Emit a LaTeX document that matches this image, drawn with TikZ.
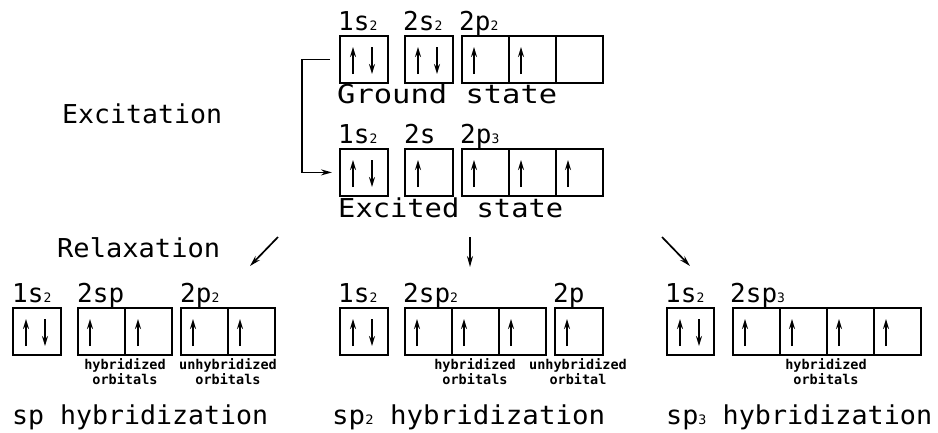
\documentclass[tikz,border=0pt]{standalone}
\usepackage{fontspec}
\usepackage{graphicx}
\newfontfamily\cadfont{DejaVu Sans Mono}
\usetikzlibrary{arrows.meta,calc}
\newcommand\sm[1]{{\fontsize{13}{13}\selectfont #1}}
\newcommand\wtxt[2]{\resizebox{#1pt}{\height}{#2}}
\newcommand\eup[2][13]{\draw[el] ($(#2.north west)+(#1,39)$) -- ($(#2.north west)+(#1,12)$);}
\newcommand\edn[2][33]{\draw[el] ($(#2.north west)+(#1,12)$) -- ($(#2.north west)+(#1,39)$);}
\newcommand\epair[1]{\eup[14]{#1}\edn[33]{#1}}
\tikzset{
  cell/.style={draw, line width=1.8pt, minimum width=47pt, minimum height=47pt, inner sep=0pt, anchor=north west},
  el/.style={line width=1.6pt, -{Stealth[length=10pt,width=6pt]}},
  conn/.style={line width=1.7pt, -{Stealth[length=11pt,width=6pt]}},
  big/.style={inner sep=0pt, anchor=base west, font=\cadfont\fontsize{26}{30}\selectfont},
  lab/.style={inner sep=0pt, anchor=base west, font=\cadfont\fontsize{26}{30}\selectfont},
  note/.style={inner sep=0pt, anchor=north, align=center, font=\cadfont\bfseries\fontsize{13.5}{15}\selectfont},
}
\begin{document}
\begin{tikzpicture}[x=1pt,y=-1pt]
\fill[white] (0,0) rectangle (938,432);
\useasboundingbox (0,0) rectangle (938,432);

% ---------- texts ----------
\node[big] (excit) at (62,123) {\wtxt{160}{Excitation}};
\node[big] (ground) at (337,103) {\wtxt{220}{Ground state}};
\node[big] (excited) at (338,217) {\wtxt{225}{Excited state}};
\node[big] (relax) at (57,257) {\wtxt{163}{Relaxation}};
\node[big] (hsp) at (12,424) {\wtxt{256}{sp hybridization}};
\node[big] (hsp2) at (332,424) {\wtxt{273}{sp\sm{2} hybridization}};
\node[big] (hsp3) at (666,424) {\wtxt{266}{sp\sm{3} hybridization}};

% ---------- ground state ----------
\node[lab] (lg1) at (338,30) {1s\sm{2}};
\node[lab] (lg2) at (403,30) {2s\sm{2}};
\node[lab] (lg3) at (459,30) {2p\sm{2}};
\node[cell,minimum width=48pt] (g1) at (339,35) {};
\node[cell,minimum width=48pt] (g2) at (404,35) {};
\node[cell] (g3) at (461,35) {};
\node[cell] (g4) at (508,35) {};
\node[cell] (g5) at (555,35) {};
\epair{g1}\epair{g2}\eup{g3}\eup{g4}

% ---------- excited state ----------
\node[lab] (le1) at (338,143) {1s\sm{2}};
\node[lab] (le2) at (404,143) {2s};
\node[lab] (le3) at (460,143) {2p\sm{3}};
\node[cell,minimum width=48pt] (e1) at (339,148) {};
\node[cell,minimum width=48pt] (e2) at (404,148) {};
\node[cell] (e3) at (461,148) {};
\node[cell] (e4) at (508,148) {};
\node[cell] (e5) at (555,148) {};
\epair{e1}\eup[14]{e2}\eup{e3}\eup{e4}\eup{e5}

% excitation connector
\draw[conn] ([xshift=-9pt]g1.west) -- ++(-28,0) |- ([xshift=-7pt]e1.west);

% relaxation arrows
\coordinate (ra1) at (278,237); \coordinate (rb1) at (250,266);
\coordinate (ra2) at (470,237); \coordinate (rb2) at (470,267);
\coordinate (ra3) at (662,237); \coordinate (rb3) at (690,266);
\draw[conn] (ra1) -- (rb1);
\draw[conn] (ra2) -- (rb2);
\draw[conn] (ra3) -- (rb3);

% ---------- sp ----------
\node[lab] (l1a) at (12,302) {1s\sm{2}};
\node[lab] (l1b) at (77,302) {2sp};
\node[lab] (l1c) at (180,302) {2p\sm{2}};
\node[cell,minimum width=48pt] (a1) at (12,307) {};
\node[cell] (a2) at (77,307) {};
\node[cell] (a3) at (124,307) {};
\node[cell] (a4) at (180,307) {};
\node[cell] (a5) at (227,307) {};
\epair{a1}\eup{a2}\eup[14]{a3}\eup{a4}\eup{a5}
\node[note] (n1) at (125,358) {hybridized\\orbitals};
\node[note] (n2) at (228,358) {unhybridized\\orbitals};

% ---------- sp2 ----------
\node[lab] (l2a) at (338,302) {1s\sm{2}};
\node[lab] (l2b) at (403,302) {2sp\sm{2}};
\node[lab] (l2c) at (553,302) {2p};
\node[cell,minimum width=48pt] (b1) at (339,307) {};
\node[cell] (b2) at (404,307) {};
\node[cell] (b3) at (451,307) {};
\node[cell] (b4) at (498,307) {};
\node[cell,minimum width=48pt] (b5) at (554,307) {};
\epair{b1}\eup{b2}\eup{b3}\eup{b4}\eup{b5}
\node[note] (n3) at (475,358) {hybridized\\orbitals};
\node[note] (n4) at (578,358) {unhybridized\\orbital};

% ---------- sp3 ----------
\node[lab] (l3a) at (665,302) {1s\sm{2}};
\node[lab] (l3b) at (730,302) {2sp\sm{3}};
\node[cell] (c1) at (666,307) {};
\node[cell] (c2) at (732,307) {};
\node[cell] (c3) at (779,307) {};
\node[cell] (c4) at (826,307) {};
\node[cell] (c5) at (873,307) {};
\epair{c1}\eup{c2}\eup{c3}\eup{c4}\eup{c5}
\node[note] (n5) at (826,358) {hybridized\\orbitals};
\end{tikzpicture}
\end{document}
